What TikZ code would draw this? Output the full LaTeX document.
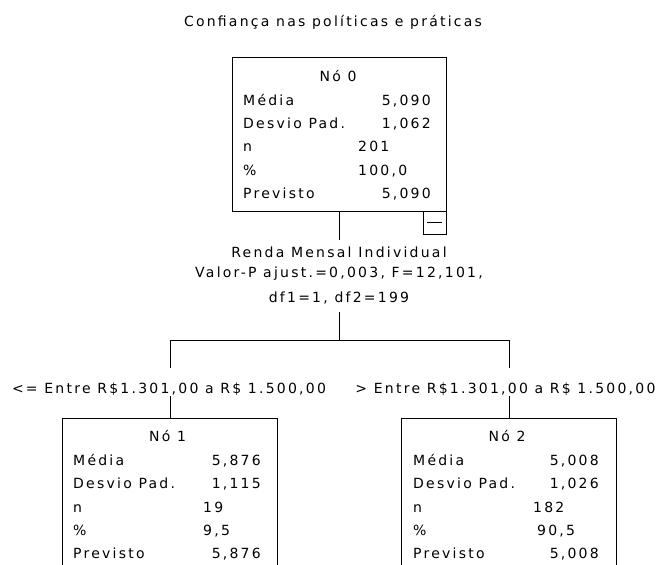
\documentclass[tikz,border=0pt]{standalone}
\usepackage{fontspec}
\setmainfont{DejaVu Sans}[LetterSpace=16]
\begin{document}
\begin{tikzpicture}[x=1pt,y=-1pt,
  font=\fontsize{14}{16}\selectfont,
  box/.style={draw, line width=1pt, inner sep=0pt},
  lbl/.style={inner sep=0pt, anchor=base west},
  val/.style={inner sep=0pt, anchor=base east},
  ctr/.style={inner sep=0pt, anchor=base},
  conn/.style={line width=1pt}]
\useasboundingbox (0,0) rectangle (660,564);
\clip (0,0) rectangle (660,564);

% title
\node[ctr] (title) at (333,26.5) {Confiança nas políticas e práticas};

% node 0
\node[box, minimum width=214pt, minimum height=153pt] (n0) at (339,134.5) {};
\node[ctr] (n0t) at (338,81.5) {Nó 0};
\node[lbl] (n0a) at (243,105.5) {Média};
\node[val] (n0av) at (431,105.5) {5,090};
\node[lbl] (n0b) at (243,128.75) {Desvio Pad.};
\node[val] (n0bv) at (431,128.75) {1,062};
\node[lbl] (n0c) at (243,152) {n};
\node[lbl] (n0cv) at (358,152) {201};
\node[lbl] (n0d) at (243,175.25) {\%};
\node[lbl] (n0dv) at (358,175.25) {100,0};
\node[lbl] (n0e) at (243,198.5) {Previsto};
\node[val] (n0ev) at (431,198.5) {5,090};
\node[box, minimum width=23pt, minimum height=23pt] (m0) at (434.5,222.5) {};
\draw[conn] ([xshift=-7.5pt]m0.center) -- ([xshift=7.5pt]m0.center);

% split
\node[ctr] (s0a) at (339,257) {Renda Mensal Individual};
\node[ctr] (s0b) at (339,277) {Valor-P ajust.=0,003, F=12,101,};
\node[ctr] (s0c) at (339,302) {df1=1, df2=199};

\coordinate (s0top) at (339,240);
\coordinate (s0bot) at (339,312);
\coordinate (j) at (339,340);
\coordinate (jl) at (170,340);
\coordinate (jr) at (509,340);
\coordinate (l1top) at (170,368);
\coordinate (l1bot) at (170,396);
\coordinate (l2top) at (509,368);
\coordinate (l2bot) at (509,396);

\node[ctr] (l1) at (169,393) {<= Entre R\$1.301,00 a R\$ 1.500,00};
\node[ctr] (l2) at (505.5,393) {> Entre R\$1.301,00 a R\$ 1.500,00};

% node 1
\node[box, minimum width=215pt, minimum height=202pt] (n1) at (169.5,519) {};
\node[ctr] (n1t) at (167.5,441.5) {Nó 1};
\node[lbl] (n1a) at (73,465.5) {Média};
\node[val] (n1av) at (261,465.5) {5,876};
\node[lbl] (n1b) at (73,488.75) {Desvio Pad.};
\node[val] (n1bv) at (261,488.75) {1,115};
\node[lbl] (n1c) at (73,512) {n};
\node[lbl] (n1cv) at (203,512) {19};
\node[lbl] (n1d) at (73,535.25) {\%};
\node[lbl] (n1dv) at (203,535.25) {9,5};
\node[lbl] (n1e) at (73,558.5) {Previsto};
\node[val] (n1ev) at (261,558.5) {5,876};

% node 2
\node[box, minimum width=215pt, minimum height=202pt] (n2) at (508.5,519) {};
\node[ctr] (n2t) at (507,441.5) {Nó 2};
\node[lbl] (n2a) at (413,465.5) {Média};
\node[val] (n2av) at (599,465.5) {5,008};
\node[lbl] (n2b) at (413,488.75) {Desvio Pad.};
\node[val] (n2bv) at (599,488.75) {1,026};
\node[lbl] (n2c) at (413,512) {n};
\node[lbl] (n2cv) at (533,512) {182};
\node[lbl] (n2d) at (413,535.25) {\%};
\node[lbl] (n2dv) at (537,535.25) {90,5};
\node[lbl] (n2e) at (413,558.5) {Previsto};
\node[val] (n2ev) at (599,558.5) {5,008};

% connectors
\draw[conn] (n0.south) -- (s0top);
\draw[conn] (s0bot) -- (j);
\draw[conn] (jl) -- (jr);
\draw[conn] (jl) -- (l1top);
\draw[conn] (jr) -- (l2top);
\draw[conn] (l1bot) -- (l1bot |- n1.north);
\draw[conn] (l2bot) -- (l2bot |- n2.north);
\end{tikzpicture}
\end{document}
